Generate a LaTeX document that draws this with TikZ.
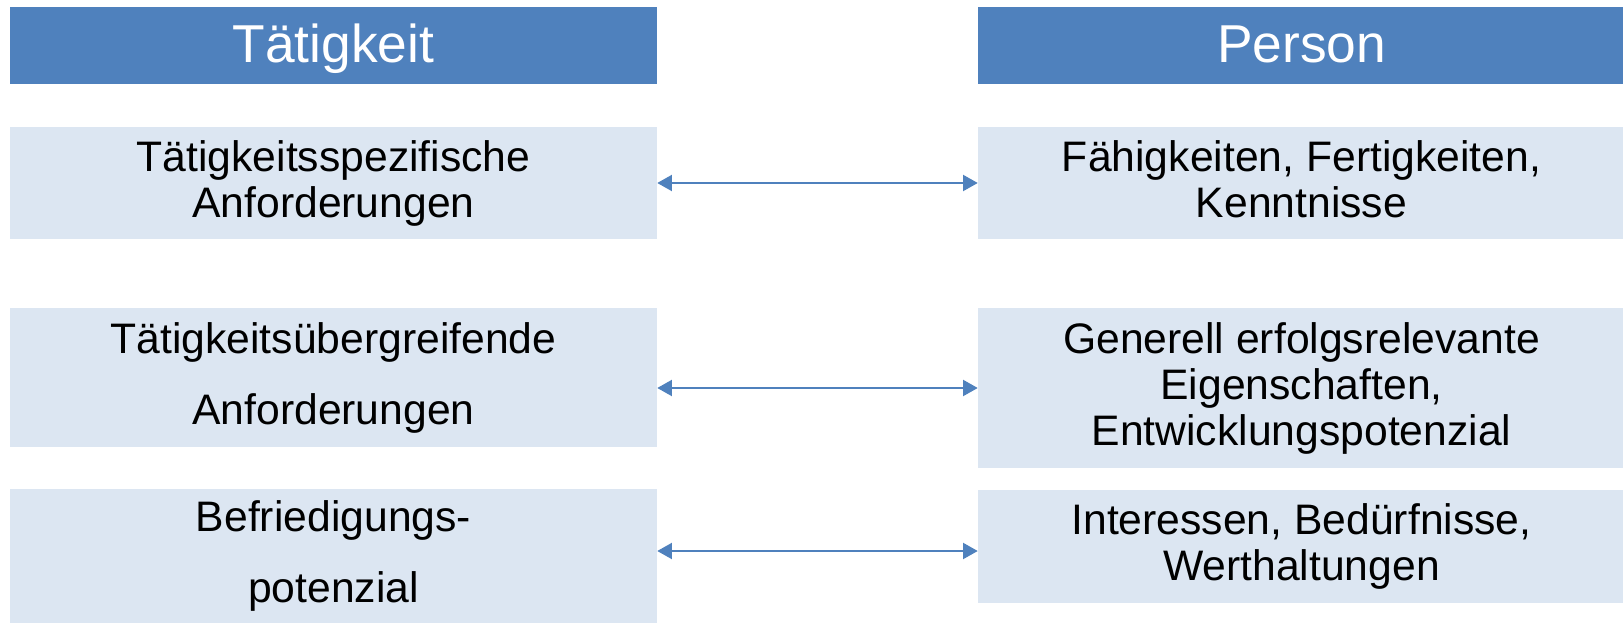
\documentclass[tikz,border=0pt]{standalone}
\usepackage{fontspec}
\setmainfont{Liberation Sans}
\usetikzlibrary{arrows.meta}
\definecolor{headblue}{HTML}{4F81BD}
\definecolor{itemblue}{HTML}{DCE6F2}

\begin{document}
\begin{tikzpicture}[x=0.75pt,y=-0.75pt,node distance=726pt,
    head node/.style={fill=headblue,text=white,inner sep=0pt,minimum width=485.25pt,minimum height=57.75pt,text height=25pt,text depth=0pt,font=\fontsize{40}{48}\selectfont},
    item node/.style={fill=itemblue,inner sep=0pt,minimum width=485.25pt,align=center,font=\fontsize{32}{34.5}\selectfont,execute at begin node={\rule{0pt}{27pt}}},
    wide lines/.style={font=\fontsize{32}{53.25}\selectfont},
    link/.style={{Triangle[length=11pt,width=12pt]}-{Triangle[length=11pt,width=12pt]},draw=headblue,line width=1.5pt}]
                    \useasboundingbox (0,0) rectangle (1623,623);

                    \node[head node] (headL) at (333.5,45.5) {Tätigkeit};
                    \node[head node] (headR) [right of = headL] {Person};

                    \node[item node,minimum height=84pt] (L1) at (333.5,183) {Tätigkeitsspezifische\\Anforderungen};
                    \node[item node,minimum height=84pt] (R1) [right of = L1] {Fähigkeiten, Fertigkeiten,\\Kenntnisse\vphantom{g}};
                    \node[item node,wide lines,minimum height=104.25pt] (L2) at (333.5,377.5) {Tätigkeitsübergreifende\\Anforderungen};
                    \node[item node,minimum height=120pt] (R2) at (1301.5,388) {Generell erfolgsrelevante\\Eigenschaften,\\Entwicklungspotenzial};
                    \node[item node,wide lines,minimum height=100.5pt] (L3) at (333.5,556) {Befriedigungs-\\potenzial};
                    \node[item node,minimum height=84.75pt] (R3) at (1301.5,546.5) {Interessen, Bedürfnisse,\\Werthaltungen};

                    \coordinate (a3) at ([yshift=3.75pt]L3.east);
                    \draw[link] (L1) -- (R1);
                    \draw[link] (L2.east |- R2.west) -- (R2.west);
                    \draw[link] (a3) -- (a3 -| R3.west);
                \end{tikzpicture}
\end{document}
